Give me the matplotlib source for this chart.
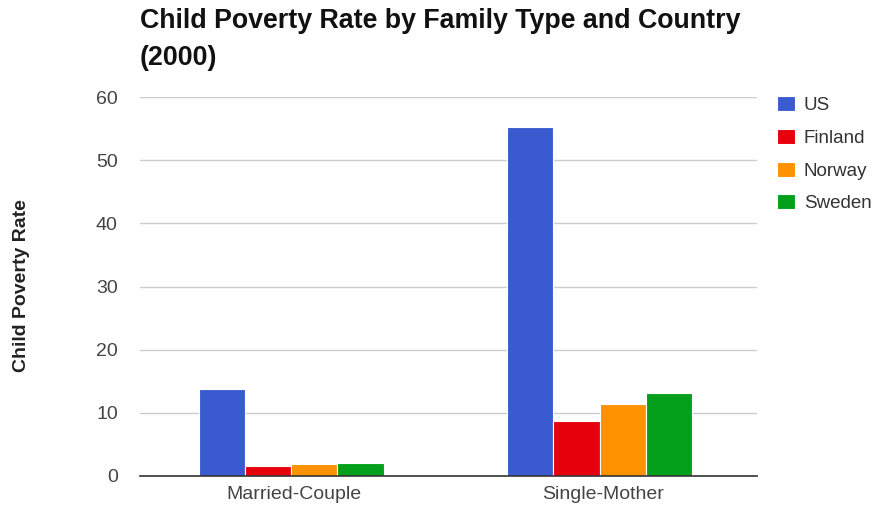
import numpy as np
import matplotlib.pyplot as plt

plt.rcParams['font.family'] = ['Liberation Sans', 'DejaVu Sans']

# --- data ---
family_types = ["Married-Couple", "Single-Mother"]
countries = ["US", "Finland", "Norway", "Sweden"]
us = [13.7, 55.3]
finland = [1.6, 8.7]
norway = [1.85, 11.4]
sweden = [2.1, 13.2]
colors = ["#3a5bcf", "#e6000c", "#ff9200", "#04a01c"]

series = [us, finland, norway, sweden]

fig = plt.figure(figsize=(8.8, 5.11), dpi=100)
ax = fig.add_axes([140 / 880, 1 - 476 / 511, 617 / 880, 379 / 511])

x = np.arange(len(family_types))
width = 0.15
for i, (vals, name, col) in enumerate(zip(series, countries, colors)):
    offs = (i - 1.5) * width
    ax.bar(x + offs - 0.01, vals, width, color=col, label=name,
           edgecolor="white", linewidth=0.8, zorder=3)

ax.set_xlim(-0.5, 1.5)
ax.set_ylim(0, 60)
ax.set_yticks(range(0, 61, 10))
ax.set_xticks(x)
ax.set_xticklabels(family_types)
ax.tick_params(axis="both", length=0, labelsize=14, colors="#444444")
ax.tick_params(axis="y", pad=16)
ax.tick_params(axis="x", pad=7)
ax.grid(axis="y", color="#cccccc", linewidth=1, zorder=0)
for s in ["top", "right", "left"]:
    ax.spines[s].set_visible(False)
ax.spines["bottom"].set_color("#333333")
ax.spines["bottom"].set_linewidth(1.2)
ax.spines["bottom"].set_zorder(4)

fig.text(22 / 880, 1 - 286 / 511, "Child Poverty Rate", rotation=90,
         ha="center", va="center", fontsize=14, fontweight="bold", color="#222222")

fig.text(140 / 880, 1 - 8 / 511, "Child Poverty Rate by Family Type and Country\n(2000)",
         ha="left", va="top", fontsize=19.3, fontweight="bold",
         linespacing=1.55, color="#111111")

leg = fig.legend(loc="upper left", bbox_to_anchor=(769 / 880, 1 - 89 / 511),
                 frameon=False, fontsize=13.5, handlelength=1.0, handleheight=0.85,
                 labelspacing=0.78, handletextpad=0.45, borderaxespad=0)
for t in leg.get_texts():
    t.set_color("#333333")

fig.savefig("out.png", dpi=100)
